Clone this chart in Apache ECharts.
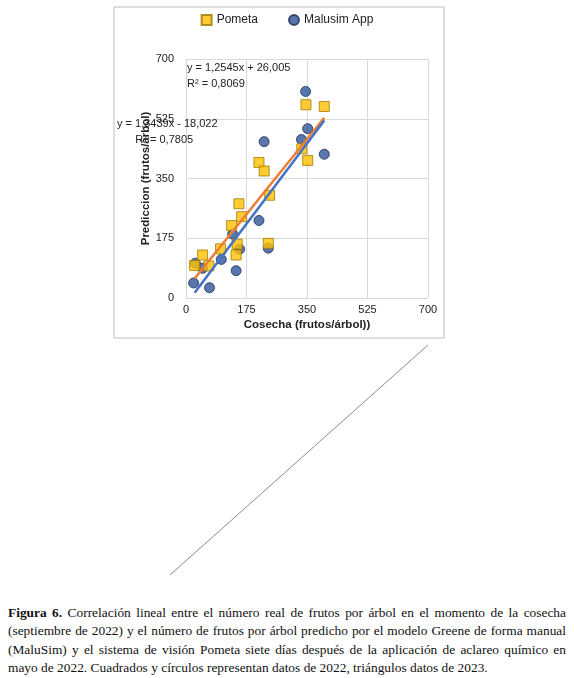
<!DOCTYPE html>
<html><head><meta charset="utf-8">
<script src="https://cdn.jsdelivr.net/npm/echarts@6/dist/echarts.min.js"></script>
<style>
body{margin:0;background:#fff;width:574px;height:678px;position:relative;overflow:hidden}
#c{position:absolute;left:0;top:0;width:574px;height:600px}
#cap{position:absolute;left:8px;top:604px;width:558px;font-family:"Liberation Serif",serif;font-size:13.4px;line-height:18.3px;text-align:justify;color:#111}
</style></head><body>
<div id="c"></div>
<div id="cap"><b>Figura 6.</b> Correlación lineal entre el número real de frutos por árbol en el momento de la cosecha (septiembre de 2022) y el número de frutos por árbol predicho por el modelo Greene de forma manual (MaluSim) y el sistema de visión Pometa siete días después de la aplicación de aclareo químico en mayo de 2022. Cuadrados y círculos representan datos de 2022, triángulos datos de 2023.</div>
<script>
const pometa=[[25,95],[48,126],[66,94],[100,144],[132,212],[153,276],[161,238],[148,158],[145,126],[211,397],[226,372],[242,301],[238,160],[335,437],[347,566],[352,403],[400,561]];
const malusim=[[22,44],[27,102],[48,87],[68,30],[102,113],[135,187],[145,80],[155,143],[211,227],[226,458],[238,146],[334,464],[346,605],[352,496],[400,421]];
const ticks=[0,175,350,525,700];
const fitP=[1.2545,26.005], fitM=[1.3439,-18.022];
const xr=[25,400];
const line=f=>xr.map(x=>[x,f[0]*x+f[1]]);
const ch=echarts.init(document.getElementById('c'));
ch.setOption({
 animation:false,
 legend:{top:9,left:'center',itemGap:30,textStyle:{fontFamily:'Liberation Sans',fontSize:12,color:'#222'},itemWidth:10,itemHeight:10,
  data:[{name:'Pometa',icon:'rect'},{name:'Malusim App',icon:'circle'}]},
 grid:{left:186,top:59,width:242,height:239},
 xAxis:{type:'value',min:0,max:700,interval:175,name:'Cosecha (frutos/árbol))',nameLocation:'middle',nameGap:21,
  nameTextStyle:{fontFamily:'Liberation Sans',fontWeight:'bold',fontSize:11.5,color:'#222'},
  axisLine:{show:false},axisTick:{show:false},axisLabel:{fontFamily:'Liberation Sans',fontSize:11,color:'#222',margin:6},
  splitLine:{lineStyle:{color:'#d9d9d9'}}},
 yAxis:{type:'value',min:0,max:700,interval:175,name:'Prediccion (frutos/árbol)',nameLocation:'middle',nameGap:22,
  nameTextStyle:{fontFamily:'Liberation Sans',fontWeight:'bold',fontSize:11.5,color:'#222'},
  axisLine:{show:false},axisTick:{show:false},axisLabel:{fontFamily:'Liberation Sans',fontSize:11,color:'#222',margin:12},
  splitLine:{lineStyle:{color:'#d9d9d9'}}},
 series:[
  {name:'Pometa',type:'scatter',data:pometa,symbol:'rect',symbolSize:10,itemStyle:{color:'#FFC000',borderColor:'#a07a00',borderWidth:1},z:3},
  {name:'Malusim App',type:'scatter',data:malusim,symbol:'circle',symbolSize:10,itemStyle:{color:'#2F5597',borderColor:'#1a2f55',borderWidth:1},z:2},
  {type:'line',data:line(fitP),symbol:'none',lineStyle:{color:'#ED7D31',width:2.5},z:4,silent:true},
  {type:'line',data:line(fitM),symbol:'none',lineStyle:{color:'#4472C4',width:2.5},z:4,silent:true}
 ],
 graphic:[
  {type:'rect',shape:{x:114,y:7,width:330,height:331},style:{fill:'none',stroke:'#bfbfbf',lineWidth:1}},
  {type:'text',left:187,top:60,z:10,style:{text:'y = 1,2545x + 26,005\nR² = 0,8069',font:'11px Liberation Sans',fill:'#222',lineHeight:16}},
  {type:'text',left:117,top:116,z:10,style:{text:'y = 1,3439x - 18,022\n      R² = 0,7805',font:'11px Liberation Sans',fill:'#222',lineHeight:16}},
  {type:'line',shape:{x1:428,y1:345,x2:170,y2:575},style:{stroke:'#888',lineWidth:1}}
 ]
});
</script></body></html>
